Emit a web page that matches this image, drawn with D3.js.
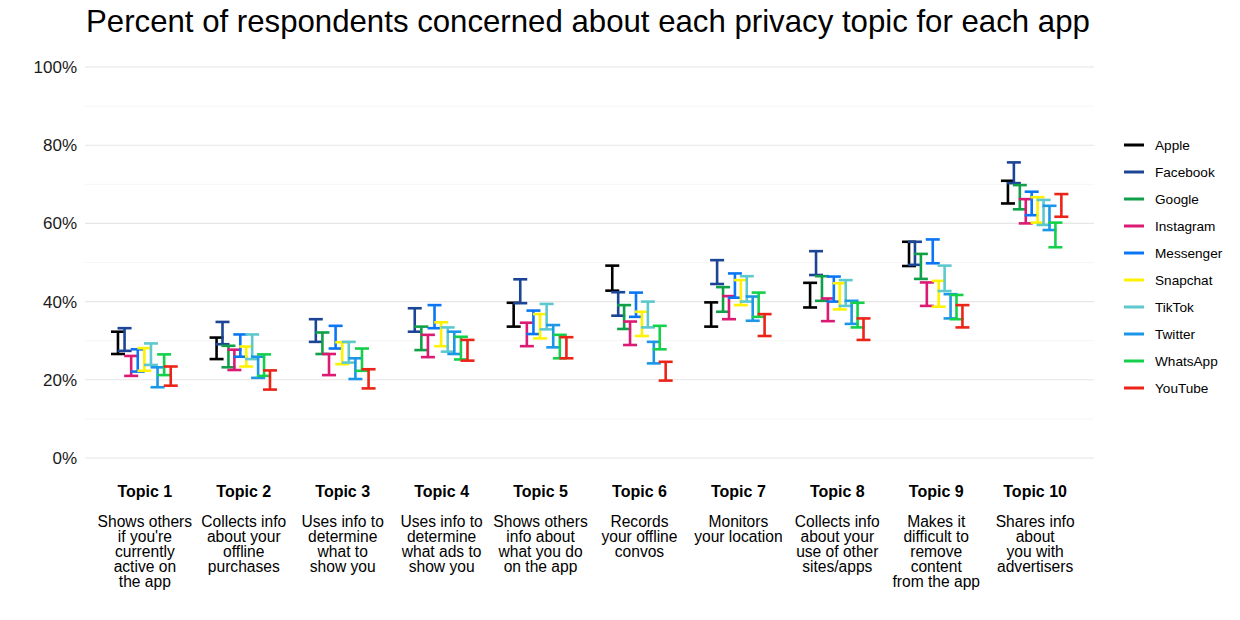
<!DOCTYPE html>
<html>
<head>
<meta charset="utf-8">
<script src="https://cdn.jsdelivr.net/npm/d3@7"></script>
<style>
  html, body { margin: 0; padding: 0; background: #ffffff; }
  svg { display: block; font-family: "Liberation Sans", Arial, sans-serif; }
</style>
</head>
<body>
<svg id="chart" width="1240" height="620"></svg>
<script>
// ---- Data ----
const topics = ["Topic 1","Topic 2","Topic 3","Topic 4","Topic 5","Topic 6","Topic 7","Topic 8","Topic 9","Topic 10"];
const topicDescriptions = [
  ["Shows others","if you're","currently","active on","the app"],
  ["Collects info","about your","offline","purchases"],
  ["Uses info to","determine","what to","show you"],
  ["Uses info to","determine","what ads to","show you"],
  ["Shows others","info about","what you do","on the app"],
  ["Records","your offline","convos"],
  ["Monitors","your location"],
  ["Collects info","about your","use of other","sites/apps"],
  ["Makes it","difficult to","remove","content","from the app"],
  ["Shares info","about","you with","advertisers"]
];
const apps = ["Apple","Facebook","Google","Instagram","Messenger","Snapchat","TikTok","Twitter","WhatsApp","YouTube"];
const appColors = ["#000000","#1d4595","#10a048","#dc1a73","#0a76f5","#fff200","#5ec8cf","#1b96e8","#14d04a","#ec2417"];
const yTicks = [0, 20, 40, 60, 80, 100];

// upper / lower bounds (percent) per app, one value per topic (null = not asked)
const appleHigh     = [32.3, 30.8, null, null, 39.7, 49.2, 39.8, 44.8, 55.3, 70.9];
const appleLow      = [26.6, 25.3, null, null, 33.6, 42.8, 33.6, 38.5, 49.1, 65.1];
const facebookHigh  = [33.2, 34.8, 35.5, 38.3, 45.7, 42.4, 50.6, 52.9, 55.3, 75.6];
const facebookLow   = [27.4, 29.1, 29.7, 32.3, 39.6, 36.4, 44.5, 46.8, 49.4, 70.3];
const googleHigh    = [null, 28.7, 32.1, 33.6, null, 39.1, 43.7, 46.5, 52.2, 69.8];
const googleLow     = [null, 23.2, 26.6, 27.6, null, 33.0, 37.4, 40.2, 45.8, 63.6];
const instagramHigh = [26.1, 27.7, 26.6, 31.5, 34.6, 34.9, 41.4, 40.8, 44.9, 66.2];
const instagramLow  = [21.0, 22.5, 21.2, 25.8, 28.6, 28.9, 35.5, 35.0, 38.9, 60.0];
const messengerHigh = [27.8, 31.6, 33.8, 39.1, 37.7, 42.3, 47.2, 46.4, 55.9, 68.1];
const messengerLow  = [22.1, 25.9, 28.0, 33.2, 31.7, 36.1, 41.0, 40.0, 49.8, 62.1];
const snapchatHigh  = [28.1, 28.5, 29.6, 34.7, 36.8, 37.4, 45.5, 44.7, 45.3, 66.7];
const snapchatLow   = [22.3, 23.4, 24.0, 28.6, 30.6, 31.2, 39.1, 38.0, 38.7, 60.2];
const tiktokHigh    = [29.3, 31.6, 29.7, 33.4, 39.4, 40.0, 46.5, 45.5, 49.2, 66.0];
const tiktokLow     = [23.8, 25.3, 24.4, 27.2, 32.9, 33.4, 40.0, 38.9, 42.7, 59.6];
const twitterHigh   = [23.2, 25.9, 25.5, 32.3, 34.0, 29.7, 41.3, 40.2, 41.9, 64.5];
const twitterLow    = [18.1, 20.5, 20.2, 26.6, 28.3, 24.2, 35.1, 34.3, 35.7, 58.3];
const whatsappHigh  = [26.5, 26.5, 28.0, 31.0, 31.5, 33.8, 42.3, 39.7, 41.7, 60.2];
const whatsappLow   = [21.2, 21.0, 22.3, 25.2, 25.5, 27.8, 36.1, 33.4, 35.5, 53.9];
const youtubeHigh   = [23.4, 22.4, 22.7, 30.2, 30.9, 24.6, 36.8, 35.7, 39.1, 67.5];
const youtubeLow    = [18.5, 17.5, 17.8, 24.9, 25.5, 19.8, 31.2, 30.2, 33.4, 61.7];

const highs = [appleHigh, facebookHigh, googleHigh, instagramHigh, messengerHigh, snapchatHigh, tiktokHigh, twitterHigh, whatsappHigh, youtubeHigh];
const lows  = [appleLow, facebookLow, googleLow, instagramLow, messengerLow, snapchatLow, tiktokLow, twitterLow, whatsappLow, youtubeLow];

// ---- Build rows with dodge index ----
const rows = [];
topics.forEach((t, ti) => {
  const present = apps.map((a, ai) => ai).filter(ai => highs[ai][ti] != null);
  present.forEach((ai, k) => {
    rows.push({ topic: t, app: apps[ai], appIndex: ai, k: k, n: present.length,
                hi: highs[ai][ti], lo: lows[ai][ti] });
  });
});

// ---- Layout ----
const svg = d3.select("#chart");
const plotLeft = 85, plotRight = 1094, plotTop = 67, plotBottom = 458;

const x = d3.scalePoint().domain(topics).range([plotLeft, plotRight]).padding(0.6);
const y = d3.scaleLinear().domain([0, 100]).range([plotBottom, plotTop]);
const step = x.step();
const dodgeWidth = 0.6 * step;
const capHalf = 7;

function xPos(d) {
  const w = dodgeWidth / d.n;
  return x(d.topic) - dodgeWidth / 2 + (d.k + 0.5) * w;
}

// Grid lines (minor + major)
const minor = [10, 30, 50, 70, 90];
svg.append("g").selectAll("line.minor").data(minor).join("line")
  .attr("x1", plotLeft).attr("x2", plotRight)
  .attr("y1", d => y(d)).attr("y2", d => y(d))
  .attr("stroke", "#f2f2f2").attr("stroke-width", 0.8);
svg.append("g").selectAll("line.major").data(yTicks).join("line")
  .attr("x1", plotLeft).attr("x2", plotRight)
  .attr("y1", d => y(d)).attr("y2", d => y(d))
  .attr("stroke", "#e6e6e6").attr("stroke-width", 1.1);

// Y axis
const yAxis = d3.axisLeft(y).tickValues(yTicks).tickFormat(d => d + "%").tickSize(0).tickPadding(8);
const yg = svg.append("g").attr("transform", `translate(${plotLeft},0)`).call(yAxis);
yg.select(".domain").remove();
yg.selectAll("text").attr("font-size", 17).attr("fill", "#1a1a1a")
  .attr("font-family", "Liberation Sans, Arial, sans-serif");

// X axis labels
const xAxis = d3.axisBottom(x).tickSize(0).tickFormat("");
const xg = svg.append("g").attr("transform", `translate(0,${plotBottom})`).call(xAxis);
xg.select(".domain").remove();
xg.selectAll(".tick").each(function(t, i) {
  const g = d3.select(this);
  g.append("text").attr("y", 39).attr("text-anchor", "middle")
    .attr("font-size", 16).attr("font-weight", "bold").attr("fill", "#000")
    .attr("font-family", "Liberation Sans, Arial, sans-serif")
    .text(t);
  topicDescriptions[i].forEach((line, li) => {
    g.append("text").attr("y", 69 + li * 15).attr("text-anchor", "middle")
      .attr("font-size", 15.6).attr("fill", "#000")
      .attr("font-family", "Liberation Sans, Arial, sans-serif")
      .text(line);
  });
});

// Error bars
const bars = svg.append("g").selectAll("g.bar").data(rows).join("g")
  .attr("stroke", d => appColors[d.appIndex]).attr("stroke-width", 2.6).attr("fill", "none");
bars.append("line")
  .attr("x1", d => xPos(d)).attr("x2", d => xPos(d))
  .attr("y1", d => y(d.lo)).attr("y2", d => y(d.hi));
bars.append("line")
  .attr("x1", d => xPos(d) - capHalf).attr("x2", d => xPos(d) + capHalf)
  .attr("y1", d => y(d.hi)).attr("y2", d => y(d.hi));
bars.append("line")
  .attr("x1", d => xPos(d) - capHalf).attr("x2", d => xPos(d) + capHalf)
  .attr("y1", d => y(d.lo)).attr("y2", d => y(d.lo));

// Title
svg.append("text").attr("x", 86).attr("y", 32)
  .attr("font-size", 31.2).attr("fill", "#000")
  .text("Percent of respondents concerned about each privacy topic for each app");

// Legend
const legend = svg.append("g").attr("transform", "translate(1124,145)");
const li = legend.selectAll("g").data(apps).join("g")
  .attr("transform", (d, i) => `translate(0,${i * 27})`);
li.append("line").attr("x1", 0).attr("x2", 20).attr("y1", 0).attr("y2", 0)
  .attr("stroke", (d, i) => appColors[i]).attr("stroke-width", 3);
li.append("text").attr("x", 31).attr("y", 0).attr("dy", "0.35em")
  .attr("font-size", 13.6).attr("fill", "#000").text(d => d);
</script>
</body>
</html>
